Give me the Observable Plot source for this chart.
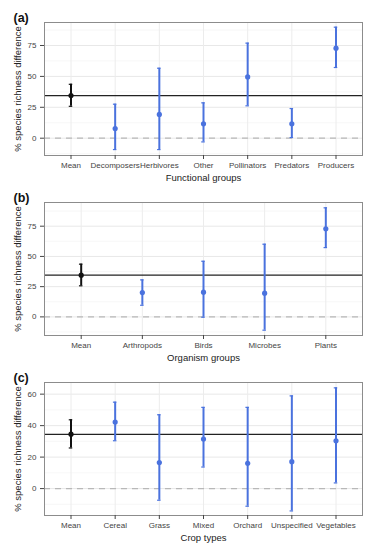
<!DOCTYPE html>
<html>
<head>
<meta charset="utf-8">
<script src="https://cdn.jsdelivr.net/npm/d3@7"></script>
<script src="https://cdn.jsdelivr.net/npm/@observablehq/plot@0.6"></script>
<style>
  html, body { margin: 0; padding: 0; background: #fff; }
  #wrap { position: relative; width: 380px; height: 551px; overflow: hidden; }
  #wrap svg { position: absolute; left: 0; }
</style>
</head>
<body>
<div id="wrap"></div>
<script>
// Panel (a): functional groups
const groupsA = ["Mean", "Decomposers", "Herbivores", "Other", "Pollinators", "Predators", "Producers"];
const estA  = [34.5,  7.8, 19.2, 11.6, 49.6, 11.6, 72.8];
const lowA  = [25.8, -9.2, -9.2, -3.0, 26.2,  0.5, 57.2];
const highA = [43.6, 27.5, 56.6, 28.6, 76.9, 24.0, 89.8];

// Panel (b): organism groups
const groupsB = ["Mean", "Arthropods", "Birds", "Microbes", "Plants"];
const estB  = [34.5, 20.1, 20.4,  19.6, 72.8];
const lowB  = [25.7,  9.6, -0.3, -11.0, 57.3];
const highB = [43.6, 30.6, 46.0,  60.1, 90.2];

// Panel (c): crop types
const groupsC = ["Mean", "Cereal", "Grass", "Mixed", "Orchard", "Unspecified", "Vegetables"];
const estC  = [34.6, 42.3, 16.5, 31.5,  16.1,  17.1, 30.4];
const lowC  = [25.8, 30.4, -7.4, 13.7, -11.2, -14.2,  3.6];
const highC = [43.7, 54.9, 46.9, 51.6,  51.6,  58.9, 64.0];

const overallMean = 34.5;
const ticksAB = [0, 25, 50, 75];
const minorAB = [-12.5, 12.5, 37.5, 62.5, 87.5];
const ticksC = [0, 20, 40, 60];
const minorC = [-10, 10, 30, 50];
const yTitle = "% species richness difference";

const BLUE = "#4a72de";
const MEANCOL = "#111111";

const W = 380, ML = 44, MR = 18;

function panel({tag, cats, est, low, high, yDomain, ticks, minor, xTitle}) {
  const data = cats.map((c, i) => ({cat: c, est: est[i], low: low[i], high: high[i], col: i === 0 ? MEANCOL : BLUE}));
  const pad = 0.2;
  const step = (W - ML - MR) / (cats.length + pad);
  const bw = step * (1 - pad);
  const capInset = (bw - 3.5) / 2;
  return Plot.plot({
    width: W, height: 186,
    marginLeft: ML, marginRight: MR, marginTop: 22, marginBottom: 31,
    style: {background: "transparent", fontFamily: "'Liberation Sans', Arial, sans-serif"},
    x: {type: "band", domain: cats, padding: pad, round: false},
    y: {domain: yDomain},
    color: {type: "identity"},
    marks: [
      Plot.ruleY(minor, {y: d => d, stroke: "#f3f3f3", strokeWidth: 0.7}),
      Plot.ruleY(ticks, {y: d => d, stroke: "#e8e8e8", strokeWidth: 1}),
      Plot.ruleX(cats, {x: d => d, stroke: "#ececec", strokeWidth: 1}),
      Plot.ruleY([0], {y: d => d, stroke: "#b8b8b8", strokeDasharray: "6,5", strokeWidth: 1.2}),
      Plot.ruleY([overallMean], {y: d => d, stroke: "#222", strokeWidth: 1.3}),
      Plot.ruleX(data, {x: "cat", y1: "low", y2: "high", stroke: "col", strokeWidth: 2}),
      Plot.tickY(data, {x: "cat", y: "low", stroke: "col", strokeWidth: 1.2, insetLeft: capInset, insetRight: capInset}),
      Plot.tickY(data, {x: "cat", y: "high", stroke: "col", strokeWidth: 1.2, insetLeft: capInset, insetRight: capInset}),
      Plot.dot(data, {x: "cat", y: "est", fill: "col", r: 2.6}),
      Plot.frame({stroke: "#8c8c8c", strokeWidth: 1}),
      Plot.axisX({tickSize: 4, tickPadding: 3, fontSize: 8, label: null, color: "#444"}),
      Plot.axisY({ticks, tickSize: 4, tickPadding: 4, fontSize: 8, label: null, color: "#444"}),
      Plot.text([xTitle], {text: d => d, frameAnchor: "bottom", dy: 25, fontSize: 9.5, fill: "#222"}),
      Plot.text([yTitle], {text: d => d, frameAnchor: "left", textAnchor: "middle", rotate: -90, dx: -27, fontSize: 9.5, fill: "#222"}),
      Plot.text([tag], {text: d => d, frameAnchor: "top-left", textAnchor: "start", dx: -31, dy: -9, fontSize: 12.5, fontWeight: "bold", fill: "#111"})
    ]
  });
}

const wrap = document.getElementById("wrap");
const specs = [
  {tag: "(a)", cats: groupsA, est: estA, low: lowA, high: highA, yDomain: [-14, 93.6], ticks: ticksAB, minor: minorAB, xTitle: "Functional groups", top: 0},
  {tag: "(b)", cats: groupsB, est: estB, low: lowB, high: highB, yDomain: [-15.4, 94.6], ticks: ticksAB, minor: minorAB, xTitle: "Organism groups", top: 180},
  {tag: "(c)", cats: groupsC, est: estC, low: lowC, high: highC, yDomain: [-17.1, 67.4], ticks: ticksC, minor: minorC, xTitle: "Crop types", top: 360}
];
for (const s of specs) {
  const svg = panel(s);
  svg.style.top = s.top + "px";
  wrap.appendChild(svg);
}
</script>
</body>
</html>
